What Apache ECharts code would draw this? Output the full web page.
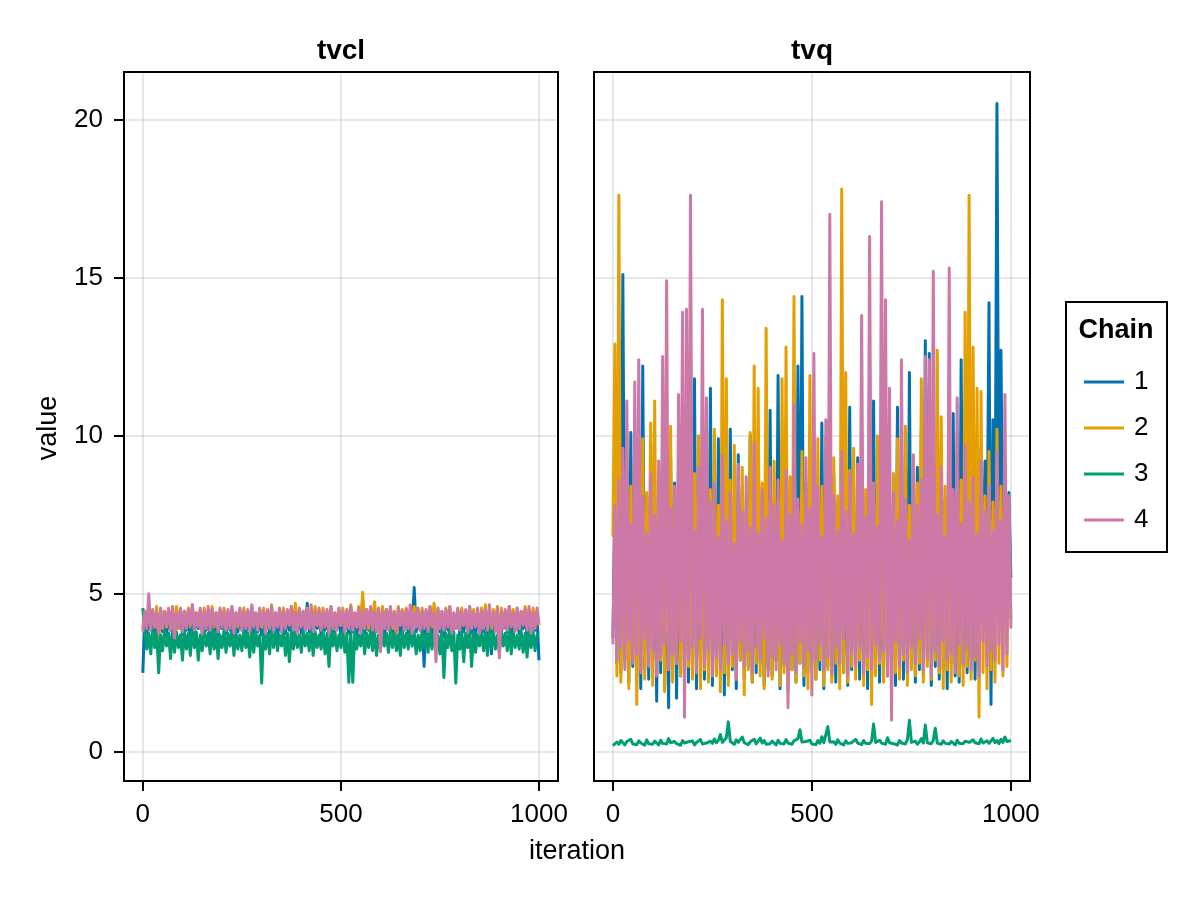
<!DOCTYPE html>
<html><head><meta charset="utf-8">
<script src="https://cdn.jsdelivr.net/npm/echarts@6/dist/echarts.min.js"></script>
<style>html,body{margin:0;padding:0;background:#fff}#main{width:1200px;height:900px}</style>
</head><body><div id="main"></div>
<script>
const chains = ['1', '2', '3', '4'];
const params = ['tvcl', 'tvq'];
const yTicks = [0, 5, 10, 15, 20];
const xTicks = [0, 500, 1000];
const STEP = 5; // one sample read every 5 iterations (0..1000)

const tvclChain1 = [
2.50,4.30,3.75,4.20,3.85,4.40,3.70,4.25,3.90,4.35,
3.80,4.20,3.65,4.45,3.85,4.30,3.75,4.25,3.90,4.40,
3.70,4.30,3.85,4.20,3.60,4.35,3.80,4.25,3.90,4.45,
3.75,4.30,3.85,4.20,3.70,4.40,3.80,4.25,3.65,4.35,
3.90,4.30,3.75,4.20,3.85,4.45,3.70,4.25,3.80,4.35,
3.85,4.30,3.65,4.40,3.90,4.25,3.75,4.35,3.80,4.20,
3.70,4.45,3.85,4.30,3.75,4.25,3.90,4.35,3.60,4.30,
3.80,4.40,3.75,4.25,3.85,4.20,3.70,4.35,3.90,4.30,
3.75,4.25,3.85,4.70,3.80,4.30,3.65,4.40,3.90,4.25,
3.70,4.35,3.85,4.20,3.75,4.45,3.80,4.30,3.90,4.25,
3.65,4.35,3.85,4.20,3.75,4.40,3.80,4.30,3.70,4.25,
3.90,4.35,3.75,4.20,3.85,4.45,3.70,4.30,3.80,4.25,
3.85,4.40,3.65,4.30,3.90,4.20,3.75,4.35,3.80,4.25,
3.70,4.30,3.85,4.45,3.75,4.20,3.90,5.20,3.80,4.35,
3.85,4.25,2.70,4.30,3.75,4.40,3.70,4.20,3.90,4.35,
3.80,4.25,3.65,4.40,3.85,4.30,3.75,4.20,3.90,4.45,
3.70,4.30,3.80,4.25,3.85,4.35,3.75,4.20,3.65,4.40,
3.90,4.30,3.80,4.25,3.70,4.35,3.10,4.20,3.85,4.40,
3.75,4.30,3.90,4.25,3.80,4.45,3.70,4.20,3.85,4.35,
3.75,4.25,3.90,4.30,3.65,4.40,3.80,4.20,3.85,4.30,
2.90];
const tvclChain2 = [
3.90,4.45,4.05,4.55,4.00,4.40,3.95,4.60,3.40,4.50,
4.05,4.45,3.95,4.55,4.10,4.40,4.00,4.60,3.90,4.50,
4.05,4.45,4.00,4.55,3.95,4.65,4.10,4.40,4.00,4.50,
3.90,4.55,4.05,4.45,4.00,4.60,3.95,4.40,4.10,4.50,
4.00,4.55,3.90,4.45,4.05,4.60,4.00,4.40,3.95,4.50,
4.10,4.55,4.00,4.45,3.90,4.60,4.05,4.40,4.00,4.50,
3.95,4.55,4.10,4.45,4.00,4.65,3.90,4.40,4.05,4.50,
4.00,4.55,3.95,4.45,4.10,4.60,4.00,4.70,3.90,4.50,
4.05,4.45,4.00,4.55,3.95,4.40,4.10,4.60,4.00,4.50,
3.90,4.55,4.05,4.45,4.00,4.60,3.95,4.40,4.10,4.50,
4.00,4.55,3.90,4.45,4.05,4.65,4.00,4.40,3.95,4.60,
4.10,5.05,4.00,4.50,3.90,4.55,4.05,4.75,4.00,4.45,
3.95,4.60,4.10,4.50,4.00,4.55,3.90,4.45,3.30,4.60,
4.05,4.50,4.00,4.55,3.95,4.45,4.10,4.60,4.00,4.50,
3.90,4.55,4.05,4.45,4.00,4.60,3.95,4.70,4.10,4.50,
4.00,4.45,3.90,4.55,4.05,4.60,4.00,4.40,3.95,4.50,
4.10,4.55,4.00,4.45,3.90,4.60,4.05,4.50,4.00,4.40,
3.95,4.55,4.10,4.65,4.00,4.45,3.90,4.50,4.05,4.60,
3.50,4.55,4.00,4.45,3.95,4.60,4.10,4.50,4.00,4.55,
3.90,4.45,4.05,4.60,4.00,4.50,3.95,4.55,4.10,4.45,
4.00];
const tvclChain3 = [
4.55,3.85,3.25,3.75,3.10,3.90,3.30,3.80,2.50,3.70,
3.20,3.85,3.35,3.75,2.95,3.90,3.15,3.80,3.30,3.70,
2.90,3.85,3.25,3.75,3.05,3.95,3.30,3.80,2.90,3.70,
3.20,3.85,3.35,3.75,3.10,3.90,3.25,3.80,2.95,3.70,
3.30,3.85,3.15,3.75,3.35,3.90,3.05,3.80,3.25,3.70,
3.20,3.85,3.30,3.75,3.00,3.90,3.15,3.80,3.35,3.70,
2.17,3.85,3.25,3.75,3.10,3.90,3.30,3.80,3.20,3.70,
3.35,3.85,3.05,3.75,2.85,3.90,3.25,3.80,3.30,3.70,
3.15,3.85,3.35,3.75,3.20,3.90,3.05,3.80,3.30,3.70,
3.25,3.85,3.10,3.75,2.70,3.90,3.35,3.80,3.20,3.70,
3.30,3.85,3.15,3.75,2.20,3.80,2.20,3.85,3.25,3.70,
3.35,3.90,3.10,3.75,3.30,3.85,3.20,3.80,3.05,3.70,
3.25,3.85,3.35,3.75,3.15,3.90,3.30,3.80,3.20,3.70,
3.05,3.85,3.30,3.75,3.25,3.90,3.35,3.80,3.10,3.70,
3.20,3.85,3.30,3.75,3.15,3.90,3.25,3.80,3.35,3.70,
3.10,3.85,2.35,3.75,3.30,3.90,3.20,3.80,2.17,3.70,
3.25,3.85,2.85,3.75,3.30,3.90,2.70,3.80,3.15,3.70,
3.35,3.85,3.20,3.75,3.05,3.90,3.30,3.80,3.25,3.70,
3.15,3.85,3.35,3.75,3.20,3.90,3.10,3.80,3.30,3.70,
3.25,3.85,3.15,3.75,3.00,3.90,3.30,3.80,3.20,3.70,
3.70];
const tvclChain4 = [
3.80,4.45,3.90,5.00,3.85,4.50,3.95,4.40,3.75,4.55,
3.90,4.45,4.00,4.50,3.85,4.60,3.60,4.40,3.95,4.55,
3.80,4.45,3.90,4.50,4.00,4.65,3.85,4.40,3.95,4.55,
3.75,4.45,3.90,4.60,3.85,4.50,4.00,4.40,3.80,4.55,
3.95,4.45,3.85,4.50,3.90,4.60,3.75,4.40,4.00,4.55,
3.85,4.45,3.90,4.50,3.80,4.65,3.95,4.40,3.85,4.55,
4.00,4.45,3.75,4.50,3.90,4.60,3.85,4.40,3.95,4.55,
3.80,4.45,3.90,4.50,4.00,4.60,3.85,4.40,3.75,4.55,
3.95,4.45,3.85,4.50,3.90,4.65,3.80,4.40,4.00,4.55,
3.85,4.45,3.95,4.50,3.75,4.60,3.90,4.40,3.85,4.55,
4.00,4.45,3.80,4.50,3.90,4.60,3.85,4.40,3.95,4.55,
3.75,4.45,3.90,4.50,4.00,4.60,3.85,4.40,3.80,4.55,
3.17,4.45,3.90,4.50,3.85,4.60,3.95,4.40,3.80,4.55,
4.00,4.45,3.85,4.50,3.90,4.65,3.75,4.40,3.95,4.55,
3.85,4.45,3.90,4.50,3.80,4.60,4.00,4.40,2.85,4.55,
3.90,4.45,3.85,4.50,3.95,4.60,3.75,4.40,3.90,4.55,
3.85,4.45,4.00,4.50,3.80,4.60,3.90,4.40,3.95,4.55,
3.75,4.45,3.90,4.50,3.85,4.65,4.00,4.40,3.80,4.55,
2.97,4.45,3.90,4.50,3.85,4.60,3.95,4.40,3.80,4.55,
3.90,4.45,4.00,4.50,3.85,4.60,3.75,4.40,3.90,4.55,
4.05];

const tvqChain1 = [
3.6,7.9,2.8,9.2,2.5,15.1,2.9,8.3,2.2,10.1,
2.7,7.6,2.4,9.5,2.0,12.2,2.6,8.1,2.3,9.8,
2.9,7.4,1.6,8.8,2.5,10.0,2.1,7.7,1.4,9.3,
2.7,8.5,1.7,7.9,2.4,10.3,2.8,8.2,2.2,9.0,
2.6,11.8,2.0,7.5,2.9,9.6,2.3,8.0,2.7,11.5,
2.1,8.7,2.5,9.9,2.8,7.3,1.8,8.9,2.4,10.2,
2.6,7.8,2.0,9.4,2.9,8.4,2.3,7.6,2.7,10.0,
2.2,8.1,2.5,9.7,2.8,7.4,2.1,8.6,2.6,10.8,
2.4,7.9,2.9,11.9,2.0,8.3,2.7,9.2,2.3,7.7,
2.6,9.0,2.2,12.2,2.8,14.4,2.1,8.5,2.5,7.8,
2.9,9.6,2.3,8.0,2.6,10.4,2.0,7.5,2.7,9.1,
2.4,8.7,2.2,7.9,2.8,11.4,2.5,8.2,2.1,10.9,
2.6,7.6,2.9,9.3,2.3,8.4,2.7,7.7,2.0,12.2,
2.5,11.1,2.8,8.8,2.2,7.4,2.6,9.5,2.4,8.1,
2.9,7.8,2.1,10.9,2.7,8.6,2.3,9.4,2.5,12.0,
2.8,7.5,2.2,9.0,2.6,10.2,2.4,13.0,2.9,12.6,
2.1,8.3,2.7,7.9,2.3,9.7,2.6,8.0,2.0,9.2,
2.8,10.7,2.4,7.6,2.2,12.4,2.7,8.5,2.5,9.3,
2.9,7.8,2.3,8.9,2.6,9.6,5.8,9.2,6.0,14.2,
1.5,10.5,5.6,20.5,5.9,12.7,6.2,9.0,5.4,8.2,
5.5];
const tvqChain2 = [
6.8,12.9,2.4,17.6,2.2,8.9,2.7,10.1,2.0,8.4,
2.9,9.6,1.5,7.8,2.6,9.9,2.3,8.2,2.8,10.4,
2.1,11.1,2.5,7.6,2.9,9.3,1.9,8.7,2.6,10.3,
2.2,7.9,2.8,9.1,2.4,8.0,1.8,9.8,2.7,7.7,
2.3,8.8,2.9,10.0,2.0,7.5,2.6,9.4,2.2,8.3,
2.8,10.2,2.4,7.8,1.9,14.3,2.5,11.8,2.1,8.6,
2.7,9.7,2.3,7.4,2.9,9.0,1.8,8.1,2.6,10.1,
2.2,12.2,2.8,11.5,2.4,8.5,2.0,13.4,2.7,7.9,
2.3,9.2,2.9,8.0,2.1,11.8,2.5,12.8,1.9,8.7,
2.6,14.4,2.2,7.6,2.8,9.5,2.4,8.2,2.0,11.9,
2.7,7.8,2.3,9.9,2.9,8.4,2.1,10.0,2.6,7.5,
2.2,9.3,2.8,8.1,2.0,17.8,2.5,12.0,2.2,8.9,
2.7,9.6,2.3,7.7,2.9,10.2,2.1,8.3,2.6,9.1,
1.5,7.9,2.4,10.0,2.8,8.6,2.2,9.4,2.7,7.6,
2.0,8.8,2.5,9.9,2.3,8.0,2.9,10.3,2.1,7.8,
2.6,9.2,2.4,8.5,2.8,11.8,2.2,7.4,2.7,9.7,
2.3,8.2,2.9,12.7,2.5,10.6,2.0,8.4,2.6,9.0,
2.2,7.7,2.8,10.1,2.4,8.6,2.1,13.9,2.7,17.6,
2.3,12.8,2.9,11.5,1.1,11.4,2.5,8.1,2.0,9.5,
2.6,7.9,2.2,10.2,2.8,8.4,2.4,9.1,2.7,7.6,
4.2];
const tvqChain3 = [
0.20,0.26,0.31,0.24,0.36,0.29,0.22,0.33,0.27,0.40,
0.25,0.30,0.23,0.35,0.28,0.32,0.21,0.38,0.26,0.30,
0.24,0.34,0.28,0.22,0.37,0.27,0.31,0.25,0.42,0.29,
0.23,0.33,0.26,0.30,0.21,0.36,0.28,0.24,0.32,0.27,
0.35,0.22,0.30,0.26,0.39,0.25,0.31,0.28,0.23,0.34,
0.27,0.41,0.29,0.36,0.55,0.30,0.25,0.45,0.95,0.33,
0.28,0.24,0.38,0.30,0.26,0.47,0.29,0.35,0.23,0.32,
0.27,0.40,0.25,0.31,0.44,0.28,0.36,0.24,0.30,0.26,
0.34,0.29,0.22,0.37,0.27,0.32,0.25,0.39,0.28,0.30,
0.24,0.35,0.29,0.42,0.70,0.31,0.26,0.33,0.28,0.37,
0.25,0.30,0.23,0.36,0.27,0.48,0.29,0.34,0.80,0.31,
0.26,0.32,0.24,0.38,0.28,0.30,0.22,0.35,0.27,0.33,
0.29,0.25,0.40,0.28,0.31,0.23,0.36,0.27,0.32,0.26,
0.34,0.88,0.30,0.25,0.37,0.28,0.31,0.24,0.45,0.29,
0.33,0.26,0.30,0.22,0.36,0.28,0.32,0.25,0.39,1.00,
0.30,0.27,0.34,0.24,0.31,0.42,0.28,0.85,0.29,0.33,
0.26,0.36,0.75,0.28,0.31,0.24,0.35,0.27,0.30,0.25,
0.33,0.29,0.22,0.37,0.27,0.31,0.26,0.34,0.28,0.30,
0.24,0.38,0.29,0.33,0.26,0.41,0.28,0.31,0.35,0.27,
0.32,0.43,0.29,0.36,0.26,0.40,0.30,0.47,0.33,0.28,
0.36];
const tvqChain4 = [
3.4,7.8,2.9,8.6,3.3,9.6,2.6,11.1,3.5,7.2,
2.8,11.7,3.1,12.4,2.5,8.1,3.6,6.9,2.7,8.8,
3.2,7.5,2.4,9.2,3.0,12.5,3.4,14.9,2.6,7.7,
3.1,8.4,2.8,11.3,3.5,13.9,1.1,14.0,2.9,17.6,
3.3,7.0,2.5,9.0,3.6,14.0,2.7,11.2,3.2,7.9,
2.4,8.5,3.0,6.8,2.6,9.4,3.4,7.3,2.8,8.2,
3.1,6.6,2.3,9.1,3.5,7.6,2.7,8.7,3.2,7.1,
2.5,9.8,3.3,6.9,2.9,8.3,3.6,7.4,2.4,9.0,
3.0,7.8,2.6,8.6,3.4,6.7,2.8,8.9,1.4,7.5,
3.1,11.0,2.5,8.0,3.5,7.2,2.7,9.3,3.2,7.7,
1.8,12.6,2.9,8.4,3.4,6.8,2.6,10.5,3.0,17.0,
2.5,8.1,3.3,7.0,2.8,9.5,3.6,7.6,2.4,8.8,
3.1,6.9,2.7,9.1,3.3,13.8,2.5,7.4,3.0,16.3,
2.6,8.5,3.4,7.1,2.9,17.4,3.2,14.3,2.4,11.5,
1.0,8.2,3.5,7.3,2.7,12.4,3.1,8.0,2.5,6.7,
3.3,9.4,2.8,7.8,3.6,8.6,2.6,12.5,3.0,12.4,
2.4,15.2,3.2,7.5,2.7,9.0,3.5,6.8,2.9,15.3,
3.1,8.3,2.5,11.2,3.4,7.2,2.8,9.7,3.3,7.9,
2.6,8.7,3.0,6.9,2.4,9.2,3.5,7.6,2.7,8.4,
3.2,7.0,2.9,9.5,3.4,7.3,2.6,11.3,3.1,8.1,
3.9];

const chainColors = ['#0072B2', '#E69F00', '#009E73', '#CC79A7'];
const FONT = '"Liberation Sans", Arial, sans-serif';

const panels = [
  [tvclChain1, tvclChain2, tvclChain3, tvclChain4],
  [tvqChain1, tvqChain2, tvqChain3, tvqChain4]
];
const toPairs = arr => arr.map((v, i) => [i * STEP, v]);

const gridLine = { show: true, lineStyle: { color: 'rgba(0,0,0,0.12)', width: 1.5 } };

function makeX(idx) {
  return {
    type: 'value', gridIndex: idx, min: -47.5, max: 1048,
    axisLine: { show: false, onZero: false },
    axisTick: { show: true, inside: false, length: 10, customValues: xTicks, lineStyle: { color: '#000', width: 2 } },
    axisLabel: { customValues: xTicks, fontSize: 26, color: '#000', fontFamily: FONT, margin: 21, formatter: v => String(v) },
    splitLine: gridLine
  };
}
function makeY(idx) {
  return {
    type: 'value', gridIndex: idx, min: -0.92, max: 21.5,
    axisLine: { show: false, onZero: false },
    axisTick: { show: idx === 0, inside: false, length: 10, customValues: yTicks, lineStyle: { color: '#000', width: 2 } },
    axisLabel: { show: idx === 0, customValues: yTicks, fontSize: 26, color: '#000', fontFamily: FONT, margin: 21, formatter: v => String(v) },
    splitLine: gridLine
  };
}

const series = [];
panels.forEach((arrs, p) => {
  arrs.forEach((arr, c) => {
    series.push({
      type: 'line', name: chains[c], xAxisIndex: p, yAxisIndex: p,
      data: toPairs(arr), symbol: 'none', showSymbol: false,
      lineStyle: { color: chainColors[c], width: 3, join: 'round' },
      itemStyle: { color: chainColors[c] },
      emphasis: { disabled: true }, animation: false, clip: true
    });
  });
});

const chart = echarts.init(document.getElementById('main'), null, { renderer: 'canvas' });
chart.setOption({
  backgroundColor: '#fff',
  animation: false,
  grid: [
    { left: 124, top: 72, width: 434, height: 709, show: true, borderColor: '#000', borderWidth: 2, backgroundColor: 'transparent', containLabel: false },
    { left: 594, top: 72, width: 436, height: 709, show: true, borderColor: '#000', borderWidth: 2, backgroundColor: 'transparent', containLabel: false }
  ],
  xAxis: [makeX(0), makeX(1)],
  yAxis: [makeY(0), makeY(1)],
  legend: {
    data: chains, orient: 'vertical', left: 1084, top: 369, padding: 0,
    icon: 'rect', itemWidth: 40, itemHeight: 3, itemGap: 20, selectedMode: false,
    textStyle: { fontSize: 26, lineHeight: 26, color: '#000', fontFamily: FONT, padding: [0, 0, 0, 5] }
  },
  graphic: [
    { type: 'rect', z: -1, shape: { x: 1066, y: 302, width: 101, height: 250 }, style: { fill: 'none', stroke: '#000', lineWidth: 2 } },
    { type: 'text', x: 1116, y: 331, style: { text: 'Chain', fill: '#000', font: 'bold 27px ' + FONT, align: 'center', verticalAlign: 'middle' } },
    { type: 'text', x: 341, y: 51, style: { text: params[0], fill: '#000', font: 'bold 28px ' + FONT, align: 'center', verticalAlign: 'middle' } },
    { type: 'text', x: 812, y: 51, style: { text: params[1], fill: '#000', font: 'bold 28px ' + FONT, align: 'center', verticalAlign: 'middle' } },
    { type: 'text', x: 49, y: 428, rotation: Math.PI / 2, style: { text: 'value', fill: '#000', font: '27px ' + FONT, align: 'center', verticalAlign: 'middle' } },
    { type: 'text', x: 577, y: 852, style: { text: 'iteration', fill: '#000', font: '27px ' + FONT, align: 'center', verticalAlign: 'middle' } }
  ],
  series: series
});
</script>
</body></html>
